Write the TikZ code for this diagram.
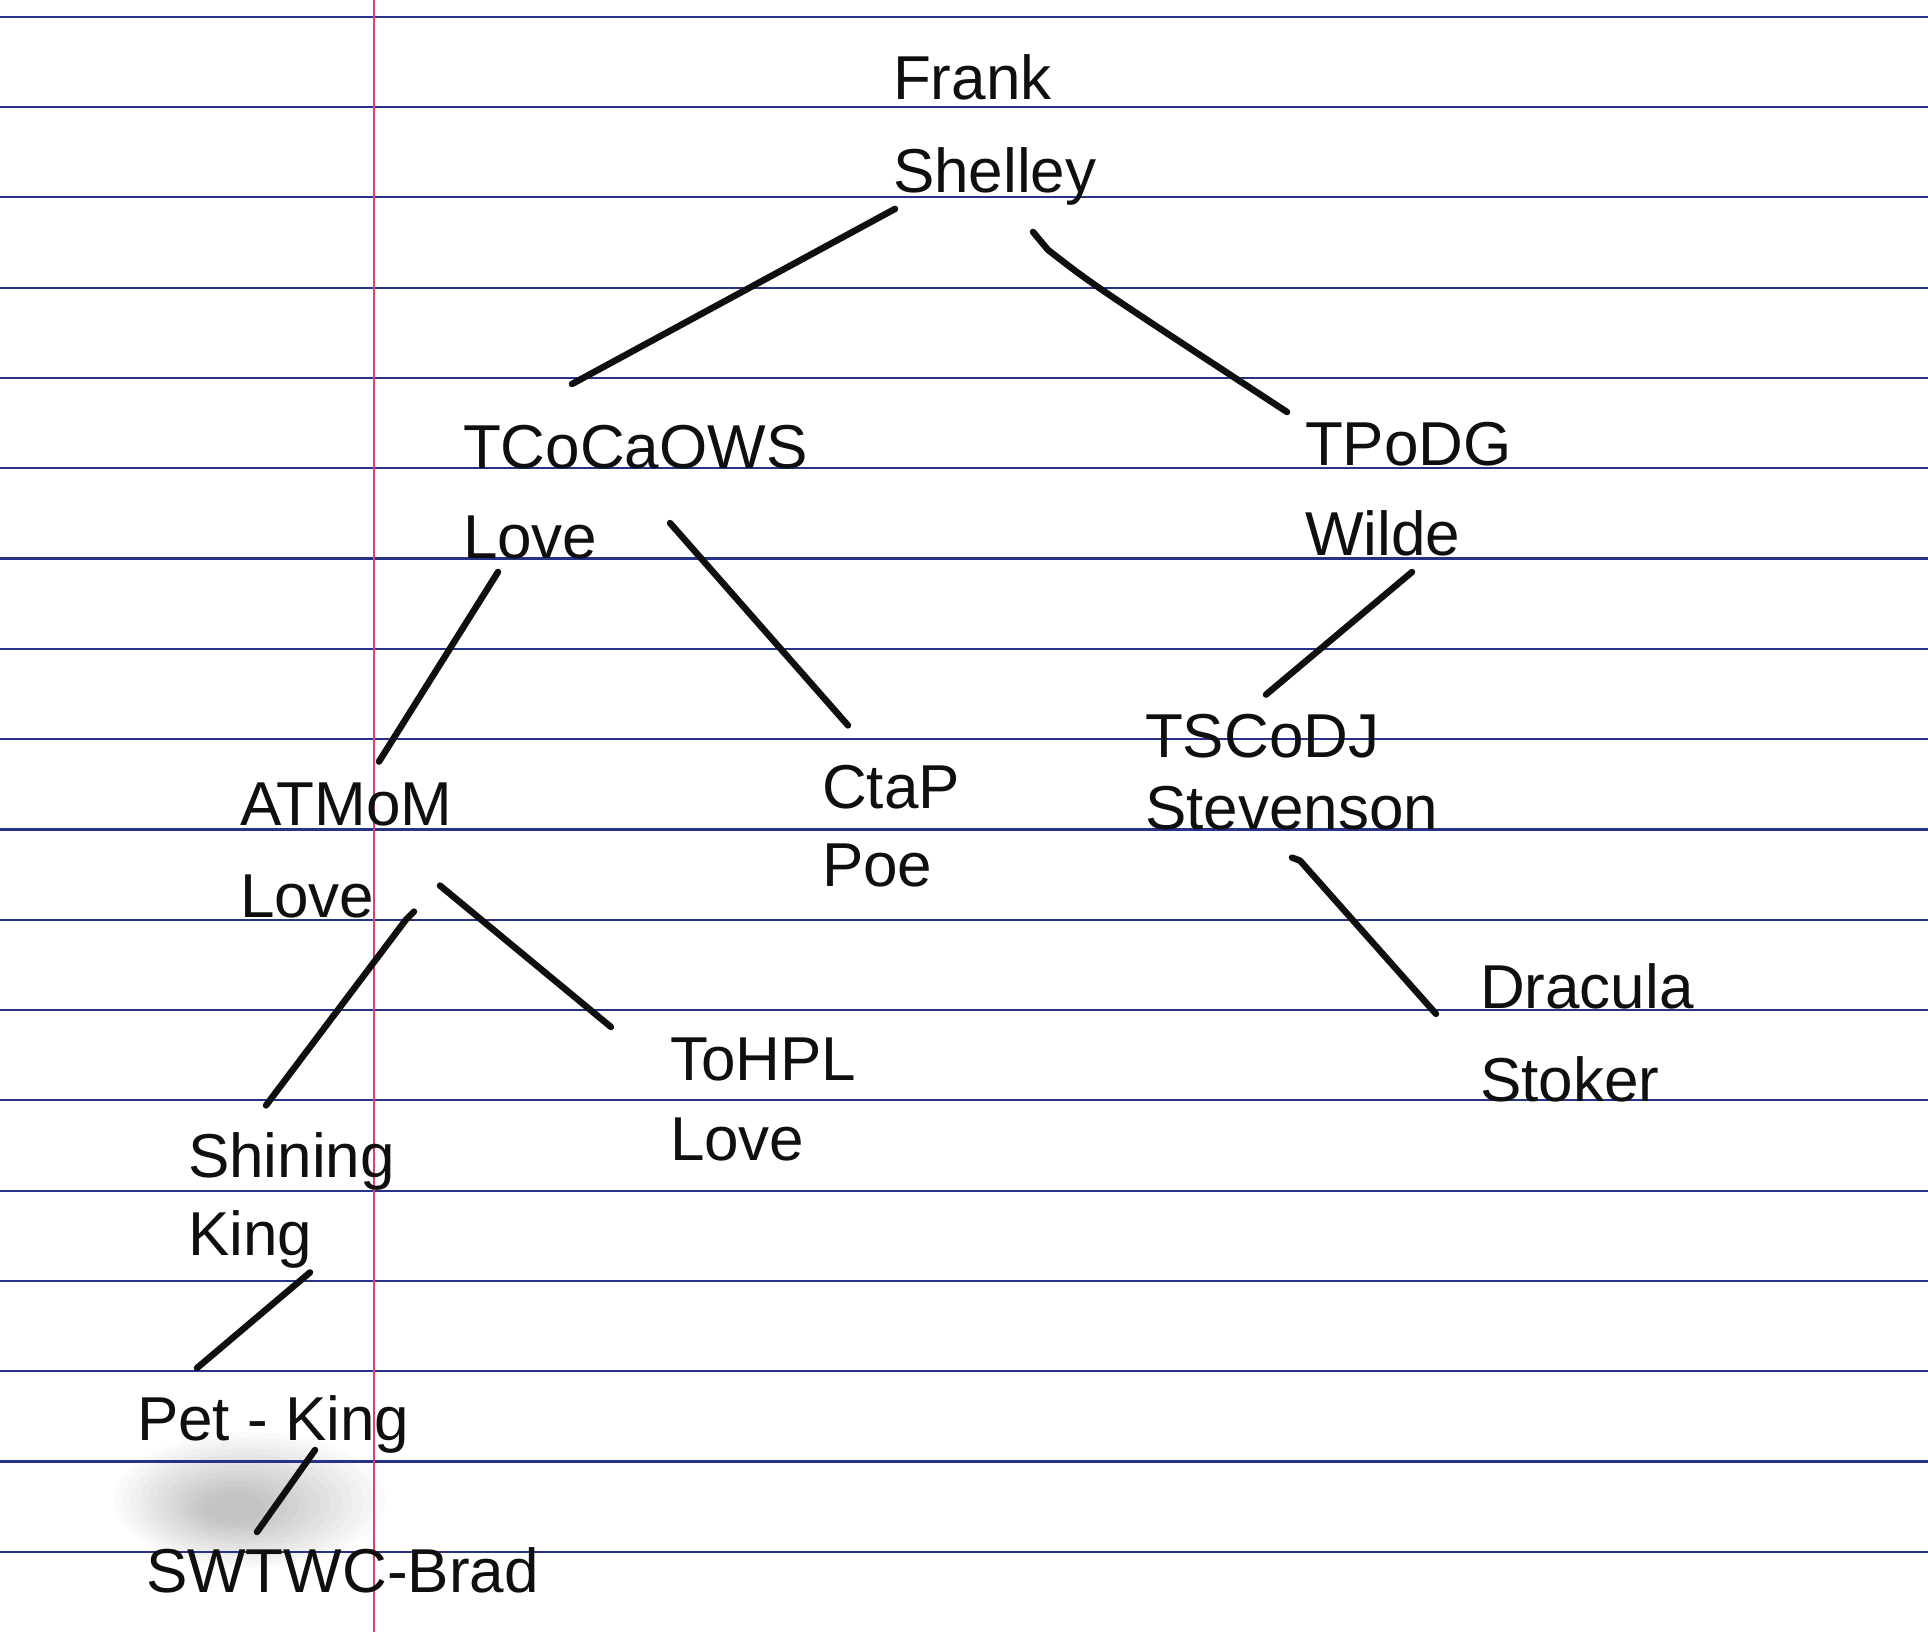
\documentclass[tikz,border=0pt]{standalone}
\usepackage{fontspec}
\setmainfont{Liberation Sans}
\usetikzlibrary{calc}
\definecolor{rulecol}{RGB}{40,50,135}
\definecolor{margincol}{RGB}{215,70,100}
\definecolor{ink}{RGB}{15,15,15}
\tikzset{
  booklbl/.style={font=\fontsize{62}{#1}\selectfont, align=left, inner sep=0pt, outer sep=0pt, anchor=north west, text=ink},
  link/.style={draw=ink, line width=6.5pt, line cap=round, line join=round},
  ruled/.style={draw=rulecol, line width=2.2pt},
  marginline/.style={draw=margincol, line width=2.4pt},
  smudge/.style={fill=black, fill opacity=0.018, draw=none}
}
\newcommand\bookpair[6]{\node[booklbl={#4}] (#1) at (#2,{#3-0.7*#4}) {\strut #5\\\strut #6};}
\newcommand\bookone[4]{\node[booklbl={90}] (#1) at (#2,{#3-63}) {\strut #4};}
\begin{document}
\begin{tikzpicture}[x=1pt,y=-1pt]
  \useasboundingbox (0,0) rectangle (1928,1632);
  \fill[white] (0,0) rectangle (1928,1632);
  % smudge
  \foreach \r in {1.0,0.93,0.86,0.79,0.72,0.65,0.58,0.51,0.44,0.37,0.30,0.23}{
    \fill[smudge] ({250-20*(1-\r)},{1500+10*(1-\r)}) ellipse ({135*\r} and {68*\r});
  }
  % ruled paper
  \foreach \k in {0,...,17}{
    \draw[ruled] (0,{16.7+90.3*\k}) -- (1928,{16.7+90.3*\k});
  }
  \draw[marginline] (374,0) -- (374,1632);
  % books
  \bookpair{frank}{893}{100}{93}{Frank}{Shelley}
  \bookpair{tcoca}{463}{468}{90}{TCoCaOWS}{Love}
  \bookpair{tpodg}{1305}{465}{90}{TPoDG}{Wilde}
  \bookpair{atmom}{240}{825}{92}{ATMoM}{Love}
  \bookpair{ctap}{822}{808}{78}{CtaP}{Poe}
  \bookpair{tscodj}{1145}{757}{72}{TSCoDJ}{Stevenson}
  \bookpair{dracula}{1480}{1008}{93}{Dracula}{Stoker}
  \bookpair{tohpl}{670}{1080}{80}{ToHPL}{Love}
  \bookpair{shining}{188}{1177}{78}{Shining}{King}
  \bookone{pet}{137}{1440}{Pet - King}
  \bookone{swtwc}{146}{1592}{SWTWC-Brad}
  % connectors
  \draw[link] ($(frank.north west)+(2,174)$) -- ($(tcoca.north west)+(109,-21)$);
  \draw[link] ($(frank.north west)+(140,197)$) -- ($(frank.north west)+(155,215)$)
     .. controls ($(frank.north west)+(200,250)$) .. ($(tpodg.north west)+(-18,10)$);
  \draw[link] ($(tcoca.north west)+(35,167)$) -- ($(atmom.north west)+(139,1)$);
  \draw[link] ($(tcoca.north west)+(207,118)$) -- ($(ctap.north west)+(26,-28)$);
  \draw[link] ($(tpodg.north west)+(107,170)$) -- ($(tscodj.north west)+(121,-12)$);
  \draw[link] ($(atmom.north west)+(174,151)$) -- ($(atmom.north west)+(166,159)$) -- ($(shining.north west)+(78,-17)$);
  \draw[link] ($(atmom.north west)+(200,125)$) -- ($(tohpl.north west)+(-59,3)$);
  \draw[link] ($(tscodj.north west)+(147,151)$) -- ($(tscodj.north west)+(155,154)$) -- ($(dracula.north west)+(-44,71)$);
  \draw[link] ($(shining.north west)+(122,150)$) -- ($(pet.north west)+(60,-9)$);
  \draw[link] ($(pet.north west)+(178,73)$) -- ($(swtwc.north west)+(111,3)$);
\end{tikzpicture}
\end{document}
